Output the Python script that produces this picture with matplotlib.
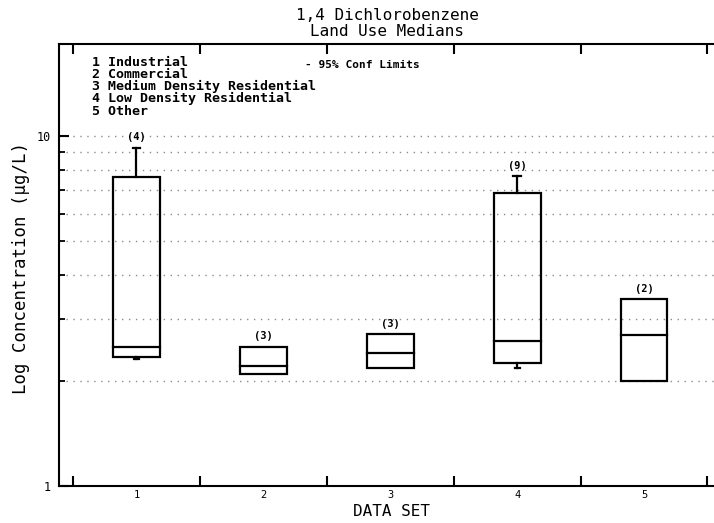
import matplotlib
matplotlib.use("Agg")
import matplotlib.pyplot as plt
from matplotlib.patches import Rectangle
from matplotlib.ticker import FixedLocator, FixedFormatter, NullFormatter

# Land-use categories and box statistics (ug/L)
categories = ["Industrial", "Commercial", "Medium Density Residential",
              "Low Density Residential", "Other"]
data_set = [1, 2, 3, 4, 5]
q1 = [2.33, 2.09, 2.18, 2.25, 2.00]
median = [2.50, 2.20, 2.40, 2.60, 2.70]
q3 = [7.63, 2.50, 2.71, 6.88, 3.42]
ci_low = [2.30, None, None, 2.18, None]
ci_high = [9.26, None, None, 7.68, None]
counts = [4, 3, 3, 9, 2]

y_ticks = [1, 10]
y_minor = [2, 3, 4, 5, 6, 7, 8, 9]
x_bounds = [0.5, 1.5, 2.5, 3.5, 4.5, 5.5]

MONO = "DejaVu Sans Mono"
plt.rcParams["font.family"] = MONO

W, H = 714, 523
fig = plt.figure(figsize=(W / 100, H / 100), dpi=100)
ax = fig.add_axes([59 / W, 37 / H, 655 / W, 442 / H])

ax.set_yscale("log")
ax.set_ylim(1, 10 ** (442 / 350))
ax.set_xlim(0.39, 0.39 + 655 / 126.9)

# grid
for g in y_minor + [10]:
    ax.axhline(g, color="#8c8c8c", lw=1.0, ls=(0, (1, 4)), zorder=0)

box_w = 0.37
cap_w = 0.06
lw = 1.6
for x, lo, md, hi, cl, ch, n in zip(data_set, q1, median, q3, ci_low, ci_high, counts):
    ax.add_patch(Rectangle((x - box_w / 2, lo), box_w, hi - lo,
                           fill=False, edgecolor="black", lw=lw, zorder=3))
    ax.plot([x - box_w / 2, x + box_w / 2], [md, md], color="black", lw=lw, zorder=3)
    top = hi
    if ch is not None:
        ax.plot([x, x], [hi, ch], color="black", lw=lw, zorder=3)
        ax.plot([x - cap_w / 2, x + cap_w / 2], [ch, ch], color="black", lw=lw, zorder=3)
        top = ch
    if cl is not None:
        ax.plot([x, x], [lo, cl], color="black", lw=lw, zorder=3)
        ax.plot([x - cap_w / 3, x + cap_w / 3], [cl, cl], color="black", lw=lw, zorder=3)
    ax.annotate(f"({n})", (x, top), xytext=(0, 7.5), textcoords="offset points",
                ha="center", va="center", fontsize=7.5, fontweight="bold")

# spines
for s in ["left", "bottom", "top"]:
    ax.spines[s].set_linewidth(1.5)
ax.spines["right"].set_visible(False)

# y axis ticks
ax.yaxis.set_major_locator(FixedLocator(y_ticks))
ax.yaxis.set_major_formatter(FixedFormatter([str(v) for v in y_ticks]))
ax.yaxis.set_minor_locator(FixedLocator(y_minor))
ax.yaxis.set_minor_formatter(NullFormatter())
ax.tick_params(axis="y", which="major", direction="in", length=7, width=1.5,
               labelsize=8.5, pad=6)
ax.tick_params(axis="y", which="minor", direction="in", length=4, width=1.3)

# x axis ticks: boundaries as major ticks, labels at the centres
ax.xaxis.set_major_locator(FixedLocator(x_bounds))
ax.xaxis.set_major_formatter(NullFormatter())
ax.xaxis.set_minor_locator(FixedLocator(data_set))
ax.xaxis.set_minor_formatter(FixedFormatter([str(v) for v in data_set]))
ax.tick_params(axis="x", which="major", direction="in", length=7, width=1.5,
               top=True, bottom=True)
ax.tick_params(axis="x", which="minor", length=0, labelsize=7.5, pad=3)

# titles and labels
fig.text(387 / W, 1 - 15 / H, "1,4 Dichlorobenzene", ha="center", va="center", fontsize=11.5)
fig.text(387 / W, 1 - 31 / H, "Land Use Medians", ha="center", va="center", fontsize=11.5)
fig.text(21 / W, 1 - 268 / H, "Log Concentration (\u03bcg/L)", rotation=90,
         ha="center", va="center", fontsize=12.5)
fig.text(391 / W, 1 - 512 / H, "DATA SET", ha="center", va="center", fontsize=11.5)

# category key
for i, (num, name) in enumerate(zip(data_set, categories)):
    fig.text(92 / W, 1 - (62 + 12.3 * i) / H, f"{num} {name}",
             ha="left", va="center", fontsize=9.5, fontweight="bold")
fig.text(305 / W, 1 - 65 / H, "- 95% Conf Limits", ha="left", va="center",
         fontsize=8, fontweight="bold")

fig.savefig("out.png", dpi=100)
